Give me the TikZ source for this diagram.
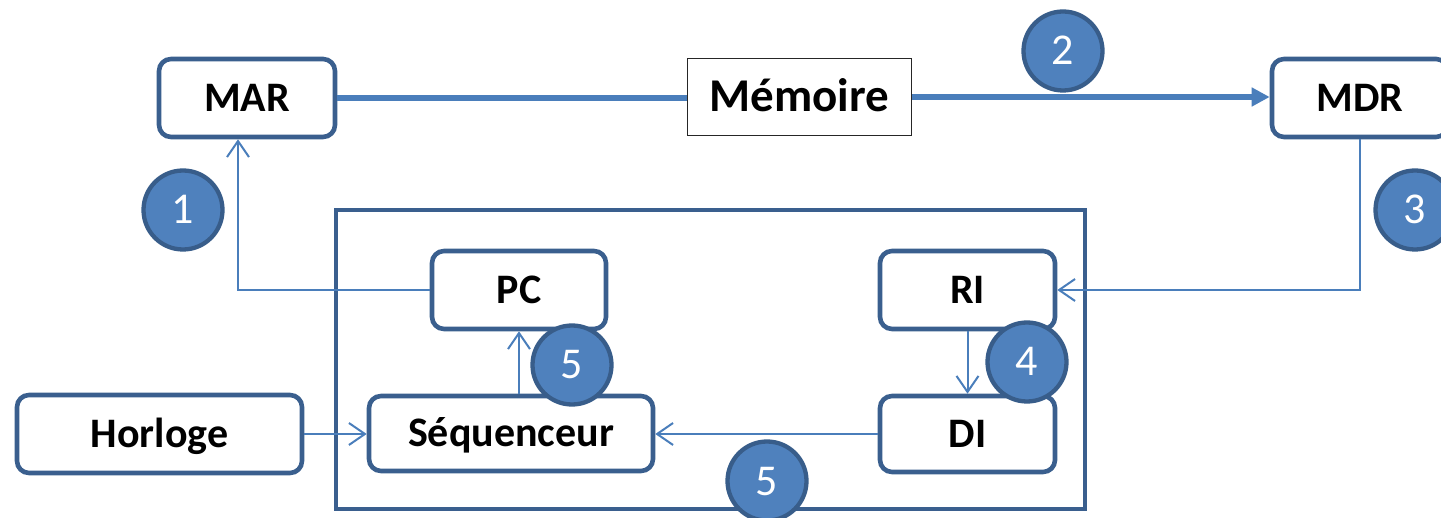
\documentclass[tikz,border=0pt]{standalone}
\usepackage{fontspec}
\setmainfont{Carlito}
\usetikzlibrary{arrows.meta}
\definecolor{boxline}{HTML}{3A5F8E}
\definecolor{conn}{HTML}{4A7EBB}
\definecolor{bubble}{HTML}{4F81BD}
\definecolor{bubbleline}{HTML}{385D8A}
\tikzset{
  box/.style={draw=boxline, line width=4.6pt, rounded corners=12pt, fill=white, inner sep=0pt,
    font=\bfseries\fontsize{42}{42}\selectfont, text height=27pt, text depth=0pt},
  membox/.style={draw=black!85, line width=1.3pt, fill=white, inner sep=0pt,
    font=\bfseries\fontsize{47}{47}\selectfont, text height=30pt, text depth=0pt},
  frame/.style={draw=boxline, line width=4.4pt},
  bus/.style={draw=conn, line width=5.5pt},
  busarrow/.style={bus, -{Triangle[length=18pt,width=18pt]}},
  link/.style={draw=conn, line width=2pt, -{Straight Barb[length=16pt,width=22pt]}},
  bubblenode/.style={circle, draw=bubbleline, fill=bubble, line width=4.3pt, minimum size=79pt, inner sep=0pt,
    text=white, font=\fontsize{44}{44}\selectfont, text height=28pt, text depth=0pt}
}
\begin{document}
\begin{tikzpicture}[x=1pt,y=-1pt]
\useasboundingbox (0,0) rectangle (1441,518);
% outer frame
\draw[frame] (336,210) rectangle (1085,509);
% boxes
\node[box, minimum width=176pt, minimum height=78pt] (mar) at (247,98) {MAR};
\node[membox, minimum width=224pt, minimum height=77pt] (mem) at (799.5,97) {Mémoire};
\node[box, minimum width=176pt, minimum height=78pt] (mdr) at (1360,98) {MDR};
\node[box, minimum width=174pt, minimum height=78pt] (pc) at (519,290) {PC};
\node[box, minimum width=284pt, minimum height=75pt] (seq) at (511,433.5) {Séquenceur};
\node[box, minimum width=175pt, minimum height=78pt] (ri) at (967.5,290) {RI};
\node[box, minimum width=175pt, minimum height=76pt] (di) at (967.5,434) {DI};
\node[box, minimum width=285pt, minimum height=78pt] (hor) at (159.5,434) {Horloge};
% connectors
\draw[bus] (mar.east) -- (mar.east -| mem.west);
\draw[busarrow] (mem.east) -- (mem.east -| mdr.west);
\draw[link] (mdr.south) |- (ri.east);
\draw[link] (pc.west) -| ([xshift=-9pt]mar.south);
\draw[link] (pc.south |- seq.north) -- (pc.south);
\draw[link] (ri.south) -- (di.north);
\draw[link] (di.west) -- (di.west -| seq.east);
\draw[link] (hor.east) -- (hor.east -| seq.west);
% bubbles
\node[bubblenode] (b1) at (183,210) {1};
\node[bubblenode] (b2) at (1063,51) {2};
\node[bubblenode] (b3) at (1415,210) {3};
\node[bubblenode] (b4) at (1027,362) {4};
\node[bubblenode] (b5a) at (572,365) {5};
\node[bubblenode] (b5b) at (767,481) {5};
\end{tikzpicture}
\end{document}
